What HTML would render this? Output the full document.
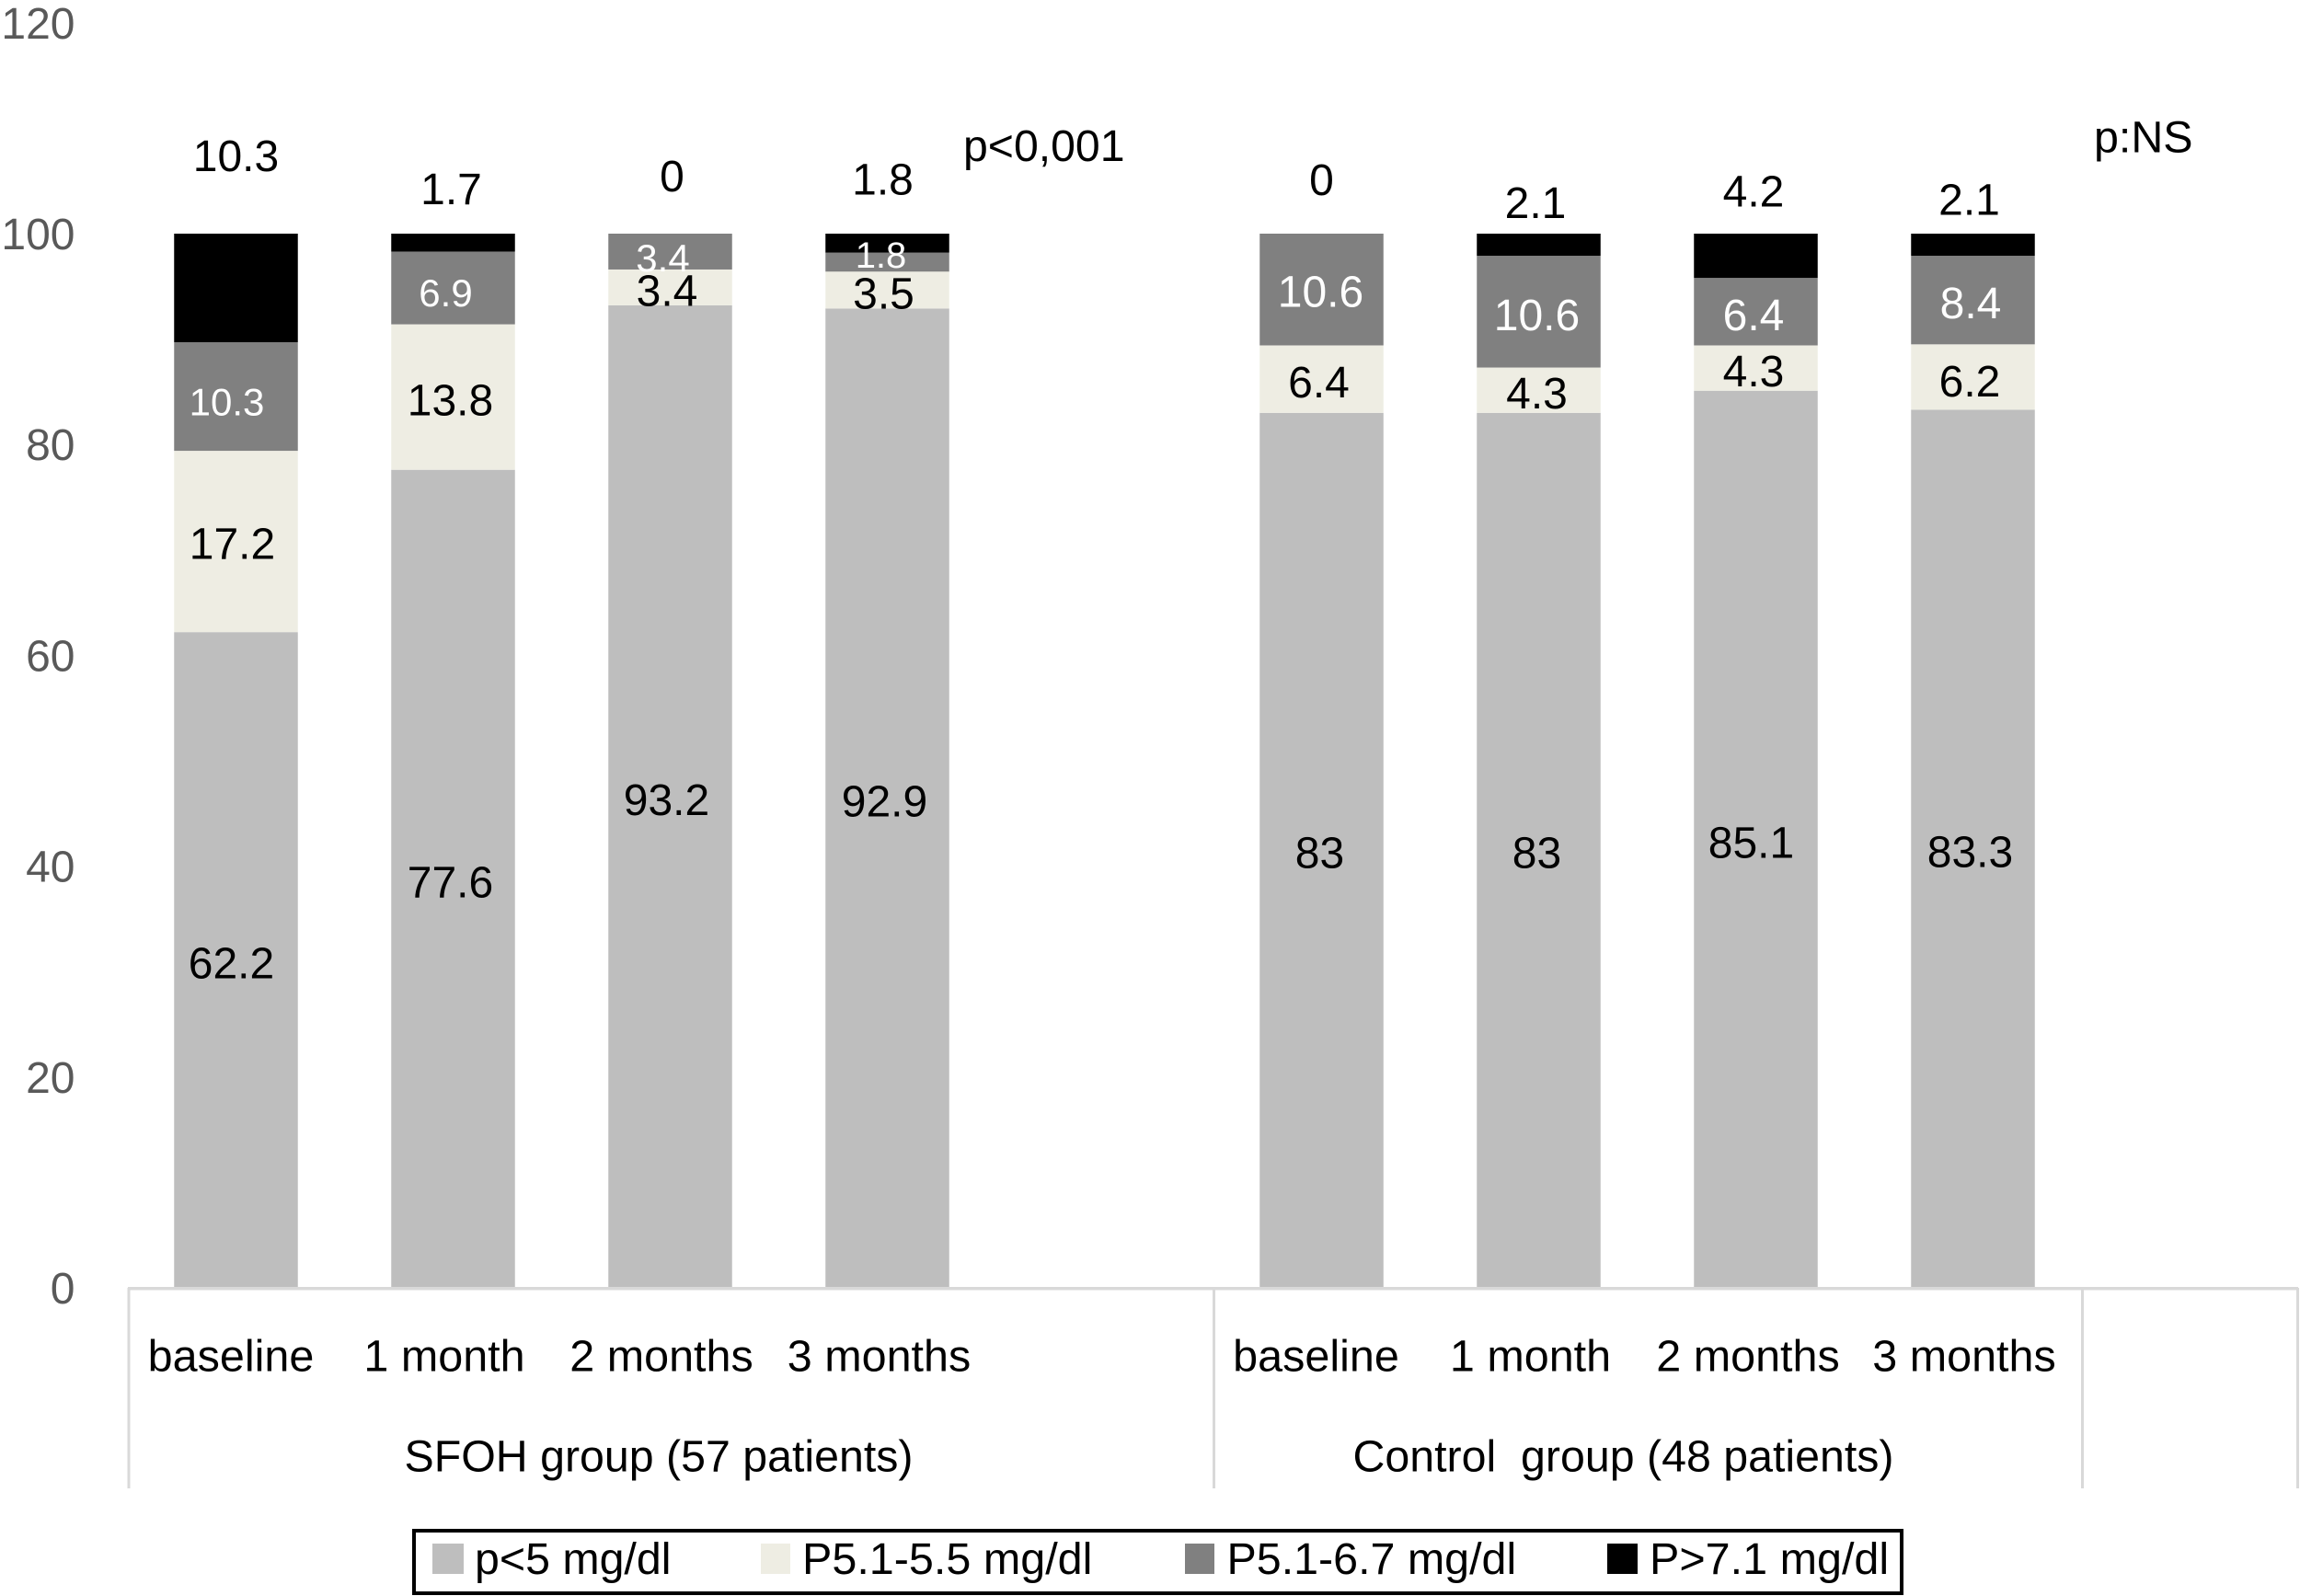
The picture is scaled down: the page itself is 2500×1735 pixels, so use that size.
<!DOCTYPE html>
<html lang="en">
<head>
<meta charset="utf-8">
<title>Phosphate categories by group</title>
<style>
html,body{margin:0;padding:0;background:#fff;}
svg{display:block;font-family:"Liberation Sans",Arial,sans-serif;}
text{white-space:pre;}
</style>
</head>
<body>
<svg id="chart" xmlns="http://www.w3.org/2000/svg" width="2500" height="1735" viewBox="0 0 2500 1735">
  <rect x="0" y="0" width="2500" height="1735" fill="#ffffff"/>
  <g id="bars"></g>
  <g id="axis">
    <rect x="139" y="1399" width="2359" height="3.5" fill="#d9d9d9"/>
    <rect x="138.5" y="1400" width="3" height="218" fill="#d9d9d9"/>
    <rect x="1318" y="1400" width="3" height="218" fill="#d9d9d9"/>
    <rect x="2262" y="1400" width="3" height="218" fill="#d9d9d9"/>
    <rect x="2496" y="1400" width="3" height="218" fill="#d9d9d9"/>
  </g>
  <g id="ticks"></g>
  <g id="labels"></g>
  <g id="cats"></g>
  <text x="716" y="1599.5" font-size="48.3" text-anchor="middle" fill="#000">SFOH group (57 patients)</text>
  <text x="1764.5" y="1599.5" font-size="48.3" text-anchor="middle" fill="#000">Control  group (48 patients)</text>
  <text x="1047" y="175" font-size="48.2" fill="#000">p&lt;0,001</text>
  <text x="2276" y="165.5" font-size="48.4" fill="#000">p:NS</text>
  <g>
    <rect x="450" y="1664" width="1617" height="68" fill="#fff" stroke="#000" stroke-width="4"/>
    <rect x="470" y="1678" width="34" height="33" fill="#bebebe"/>
    <text x="516" y="1711" font-size="48.3" fill="#000">p&lt;5 mg/dl</text>
    <rect x="827" y="1678" width="32" height="33" fill="#eeede3"/>
    <text x="872" y="1711" font-size="48.5" fill="#000">P5.1-5.5 mg/dl</text>
    <rect x="1288" y="1678" width="32" height="33" fill="#808080"/>
    <text x="1333.5" y="1711" font-size="48.4" fill="#000">P5.1-6.7 mg/dl</text>
    <rect x="1747" y="1678" width="33" height="33" fill="#000000"/>
    <text x="1793" y="1711" font-size="48.5" fill="#000">P&gt;7.1 mg/dl</text>
  </g>
</svg>
<script>
const categories = ['baseline','1 month','2 months','3 months','','baseline','1 month','2 months','3 months',''];
const seriesLow = [62.2,77.6,93.2,92.9,null,83,83,85.1,83.3,null];
const seriesMid = [17.2,13.8,3.4,3.5,null,6.4,4.3,4.3,6.2,null];
const seriesHigh = [10.3,6.9,3.4,1.8,null,10.6,10.6,6.4,8.4,null];
const seriesVeryHigh = [10.3,1.7,0,1.8,null,0,2.1,4.2,2.1,null];
const yTicks = [0,20,40,60,80,100,120];

const NS = 'http://www.w3.org/2000/svg';
const plotLeft = 138.5, slotWidth = 236, barWidth = 134.5;
const yZero = 1400, unit = 11.46;
function xScale(i){ return plotLeft + slotWidth * (i + 0.5); }
function yScale(v){ return yZero - v * unit; }

function makeText(str, x, y, size, fill, anchor){
  const t = document.createElementNS(NS, 'text');
  t.setAttribute('x', x);
  t.setAttribute('y', y);
  t.setAttribute('font-size', size);
  t.setAttribute('fill', fill);
  t.setAttribute('text-anchor', anchor);
  t.textContent = str;
  return t;
}

/* y ticks */
const tickGroup = document.getElementById('ticks');
yTicks.forEach(function(v){
  const t = makeText(String(v), 81.5, yScale(v) + 17, 48, '#595959', 'end');
  
  
  tickGroup.appendChild(t);
});

/* stacked bars */
const layers = [
  {key:'low', values:seriesLow, fill:'#bebebe', text:'#000000'},
  {key:'mid', values:seriesMid, fill:'#eeede3', text:'#000000'},
  {key:'high', values:seriesHigh, fill:'#808080', text:'#ffffff'},
  {key:'very-high', values:seriesVeryHigh, fill:'#000000', text:'#000000'}
];

/* Hand-placed label adjustments from the original figure: [dx, dy, fontSize] per segment */
const labelPlacement = {
  'low': [[-5,3,48],[-3,3,48],[-4,3,48],[-3,3,48],null,[-2,2,48],[-2,2,48],[-5,3,48],[-3,3,48],null],
  'mid': [[-4,2,48],[-3,3,48],[-3.5,3,48],[-4,3.4,48],null,[-3,3,48],[-2,3,48],[-2.5,3,48],[-3.5,4,48],null],
  'high': [[-10,5.5,42],[-8,5,42],[-8,6.5,42],[-7,-8,40],null,[-1,2,48],[-2,3,48],[-2.5,3,48],[-2.5,3,48],null],
  'very-high': [[0,-144,48],[-2,-58.7,48],[2,-63,48],[-5,-70,48],null,[0,-59,48],[-3.5,-46,48],[-2.5,-70.5,48],[-4,-49.5,48],null]
};

/* Hand-placed horizontal shift of each category label relative to its bar */
const categoryShift = [-5.5,-9.5,-9.5,-9,0,-6,-9,-8.5,-9.5,0];

const barGroup = document.getElementById('bars');
const labelGroup = document.getElementById('labels');
categories.forEach(function(cat, i){
  if (seriesLow[i] === null) return;
  let base = 0;
  layers.forEach(function(layer){
    const v = layer.values[i];
    const top = base + v;
    if (v > 0) {
      const r = document.createElementNS(NS, 'rect');
      r.setAttribute('x', xScale(i) - barWidth / 2);
      r.setAttribute('y', yScale(top));
      r.setAttribute('width', barWidth);
      r.setAttribute('height', yScale(base) - yScale(top));
      r.setAttribute('fill', layer.fill);
      
      
      barGroup.appendChild(r);
    }
    const p = labelPlacement[layer.key][i];
    const mid = yScale(base + v / 2);
    const t = makeText(String(v), xScale(i) + p[0], mid + p[2] * 0.354 + p[1], p[2], layer.text, 'middle');
    
    
    labelGroup.appendChild(t);
    base = top;
  });
});

/* category labels */
const catGroup = document.getElementById('cats');
categories.forEach(function(cat, i){
  if (!cat) return;
  const t = makeText(cat, xScale(i) + categoryShift[i], 1490.5, 48.5, '#000000', 'middle');
  
  
  catGroup.appendChild(t);
});
</script>
</body>
</html>
